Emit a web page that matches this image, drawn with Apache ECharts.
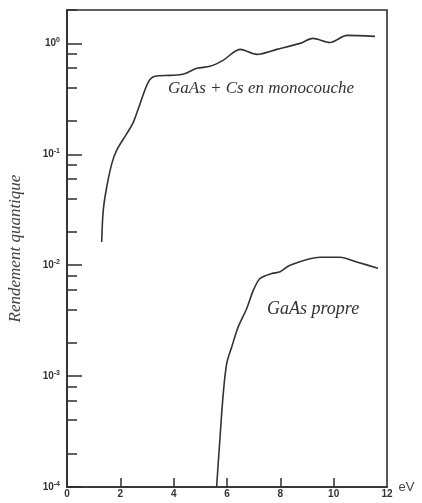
<!DOCTYPE html>
<html>
<head>
<meta charset="utf-8">
<script src="https://cdn.jsdelivr.net/npm/echarts@6/dist/echarts.min.js"></script>
<style>html,body{margin:0;padding:0;background:#fff}#c{width:422px;height:503px}</style>
</head>
<body>
<div id="c"></div>
<script>
// GaAs + Cs en monocouche
const ev1 = [1.30, 1.36, 1.49, 1.68, 1.86, 2.24, 2.49, 2.74, 3.05, 3.30, 3.86, 4.35, 4.87, 5.36, 5.85, 6.49, 7.12, 7.87, 8.74, 9.22, 9.86, 10.5, 11.55];
const q1  = [0.0162, 0.0313, 0.0507, 0.0824, 0.1087, 0.1535, 0.195, 0.286, 0.448, 0.505, 0.515, 0.526, 0.596, 0.621, 0.703, 0.883, 0.796, 0.883, 1.0, 1.109, 1.02, 1.18, 1.156];
// GaAs propre
const ev2 = [5.61, 5.74, 5.86, 5.99, 6.18, 6.42, 6.74, 6.99, 7.24, 7.68, 7.99, 8.36, 9.49, 10.24, 10.86, 11.66];
const q2  = [1.0e-4, 2.84e-4, 6.98e-4, 1.30e-3, 1.84e-3, 2.78e-3, 4.07e-3, 5.96e-3, 7.59e-3, 8.41e-3, 8.71e-3, 1.0e-2, 1.18e-2, 1.18e-2, 1.07e-2, 9.4e-3];

const xTicks = [0, 2, 4, 6, 8, 10, 12];
const yMajor = [1e-4, 1e-3, 1e-2, 1e-1, 1];
const yMinorMult = [2, 4, 6, 8];
const labelA = "GaAs + Cs en monocouche";
const labelB = "GaAs propre";
const yName = "Rendement quantique";

const yMinor = [];
yMajor.forEach(d => yMinorMult.forEach(m => { const v = d * m; if (v <= 2) yMinor.push(v); }));

const ink = '#2e2e2e';
const chart = echarts.init(document.getElementById('c'), null, {renderer: 'canvas'});
chart.setOption({
  animation: false,
  grid: {left: 67, right: 35, top: 10, bottom: 16, containLabel: false, outerBoundsMode: 'none', show: true, borderColor: ink, borderWidth: 1.6},
  xAxis: {
    type: 'value', min: 0, max: 12, interval: 2,
    axisLine: {lineStyle: {color: ink, width: 1.6}},
    axisTick: {inside: true, length: 9, lineStyle: {color: ink, width: 1.5}, customValues: xTicks.slice(1, -1)},
    axisLabel: {color: '#333', fontSize: 10, fontWeight: 'bold', fontFamily: 'Liberation Sans', margin: 2, customValues: xTicks},
    splitLine: {show: false},
    name: 'eV', nameLocation: 'end', nameGap: 7,
    nameTextStyle: {color: '#444', fontSize: 13, fontFamily: 'Liberation Sans', padding: [14, 0, 0, 0]}
  },
  yAxis: [{
    type: 'log', logBase: 10, min: 1e-4, max: 2,
    axisLine: {lineStyle: {color: ink, width: 1.6}},
    axisTick: {inside: true, length: 15, lineStyle: {color: ink, width: 1.5}, customValues: yMajor},
    axisLabel: {
      margin: 7, customValues: yMajor,
      formatter: v => '{b|10}{s|' + String(Math.round(Math.log10(v))) + '}',
      rich: {
        b: {fontSize: 10, fontWeight: 'bold', color: '#333', fontFamily: 'Liberation Sans'},
        s: {fontSize: 7, fontWeight: 'bold', color: '#333', fontFamily: 'Liberation Sans', padding: [0, 0, 6, 0]}
      }
    },
    splitLine: {show: false},
    name: yName, nameLocation: 'middle', nameGap: 43,
    nameTextStyle: {color: '#444', fontSize: 17, fontStyle: 'italic', fontFamily: 'Liberation Serif'}
  }, {
    type: 'log', logBase: 10, min: 1e-4, max: 2, position: 'left',
    axisLine: {show: false},
    axisTick: {inside: true, length: 10, lineStyle: {color: ink, width: 1.5}, customValues: yMinor},
    axisLabel: {show: false},
    splitLine: {show: false}
  }],
  series: [{
    type: 'line', name: labelA, smooth: 0.3, symbol: 'none',
    lineStyle: {color: '#333', width: 1.6},
    data: ev1.map((x, i) => [x, q1[i]])
  }, {
    type: 'line', name: labelB, smooth: 0.3, symbol: 'none',
    lineStyle: {color: '#333', width: 1.6},
    data: ev2.map((x, i) => [x, q2[i]])
  }],
  graphic: [{
    type: 'text', left: 168, top: 80,
    style: {text: labelA, fill: '#333', font: 'italic 17px "Liberation Serif"'}
  }, {
    type: 'text', left: 267, top: 300,
    style: {text: labelB, fill: '#333', font: 'italic 18px "Liberation Serif"'}
  }]
});
</script>
</body>
</html>
